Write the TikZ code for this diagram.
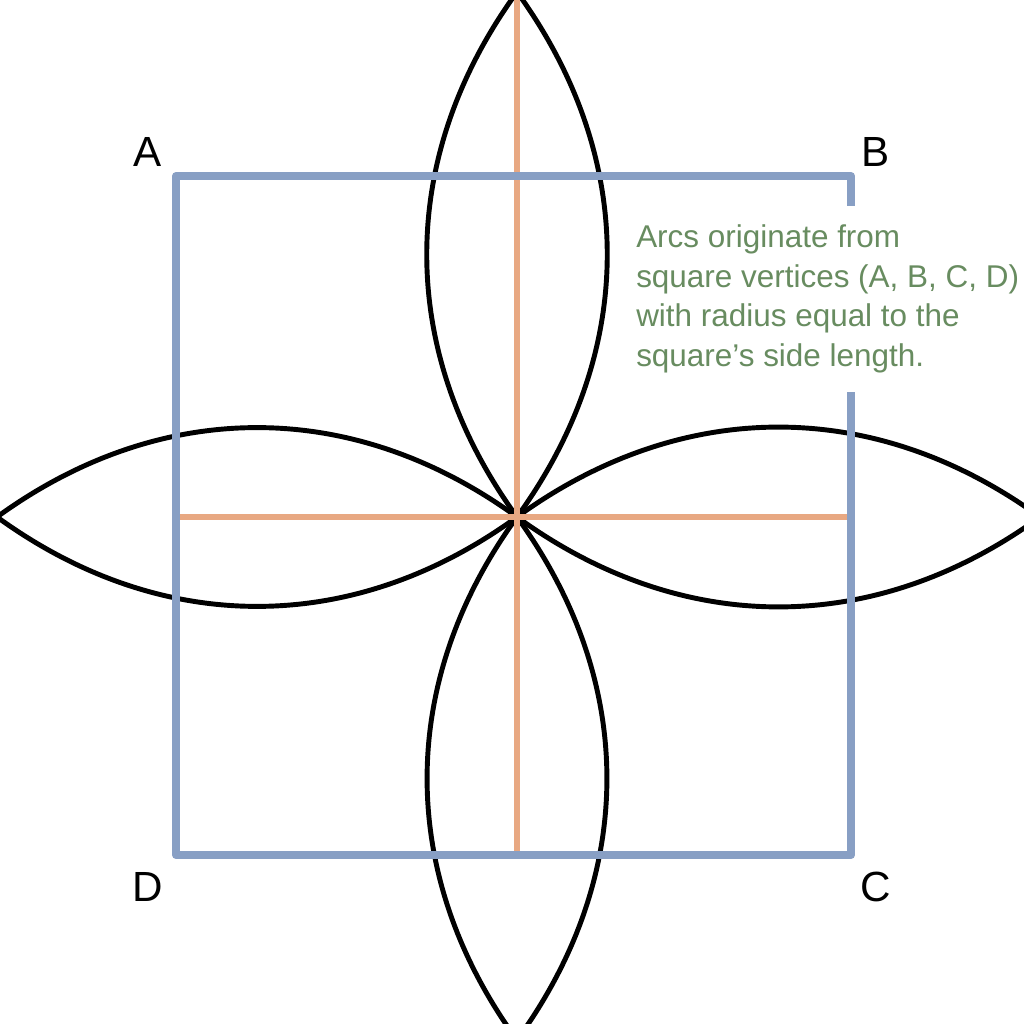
\documentclass[tikz,border=0pt]{standalone}
\usepackage{fontspec}
\setmainfont{Liberation Sans}
\usepackage{xcolor}
\definecolor{sideblue}{RGB}{136,159,196}
\definecolor{axisorange}{RGB}{232,168,130}
\definecolor{notegreen}{RGB}{104,140,96}
\usetikzlibrary{positioning}

\begin{document}
\begin{tikzpicture}[
	petal/.style={draw=black, line width=1.4pt},
	axis/.style={draw=axisorange, line width=1.6pt},
	side/.style={draw=sideblue, line width=2.3pt, line join=round},
	vertex/.style={font=\fontsize{12}{14}\selectfont, inner sep=0pt},
	note/.style={fill=white, text=notegreen, align=left, inner xsep=3pt, inner ysep=5.3pt, font=\fontsize{8.95}{11.3}\selectfont}]
	\clip (0,0) rectangle (10.24,10.24);
				% centre, vertices, petal tips
	\coordinate (O) at (5.17,5.07);
	\coordinate (A) at (1.76,8.48);
	\coordinate (B) at (8.51,8.48);
	\coordinate (C) at (8.51,1.69);
	\coordinate (D) at (1.76,1.69);
	\coordinate (N) at (5.17,10.32);
	\coordinate (S) at (5.17,-0.16);
	\coordinate (W) at (-0.03,5.07);
	\coordinate (E) at (10.40,5.07);
				% petals
	\draw[petal] (O) to[bend left=36] (N) to[bend left=36] (O);
	\draw[petal] (O) to[bend left=36] (S) to[bend left=36] (O);
	\draw[petal] (O) to[bend left=36] (W) to[bend left=36] (O);
	\draw[petal] (O) to[bend left=36] (E) to[bend left=36] (O);
				% axes
	\draw[axis] (N) -- (O |- D);
	\draw[axis] (A |- O) -- (B |- O);
				% square
	\draw[side] (A) -- (B) -- (C) -- (D) -- cycle;
				% note
	\node[note, anchor=west] (note) at (6.25,7.25) {Arcs originate from\\square vertices (A, B, C, D)\\with radius equal to the\\square’s side length.};
				% vertex labels
	\node[vertex] (lA) at ([shift={(-0.28,0.24)}]A) {A};
	\node[vertex] (lB) at ([shift={(0.25,0.24)}]B) {B};
	\node[vertex] (lC) at ([shift={(0.25,-0.32)}]C) {C};
	\node[vertex] (lD) at ([shift={(-0.28,-0.32)}]D) {D};
\end{tikzpicture}
\end{document}
